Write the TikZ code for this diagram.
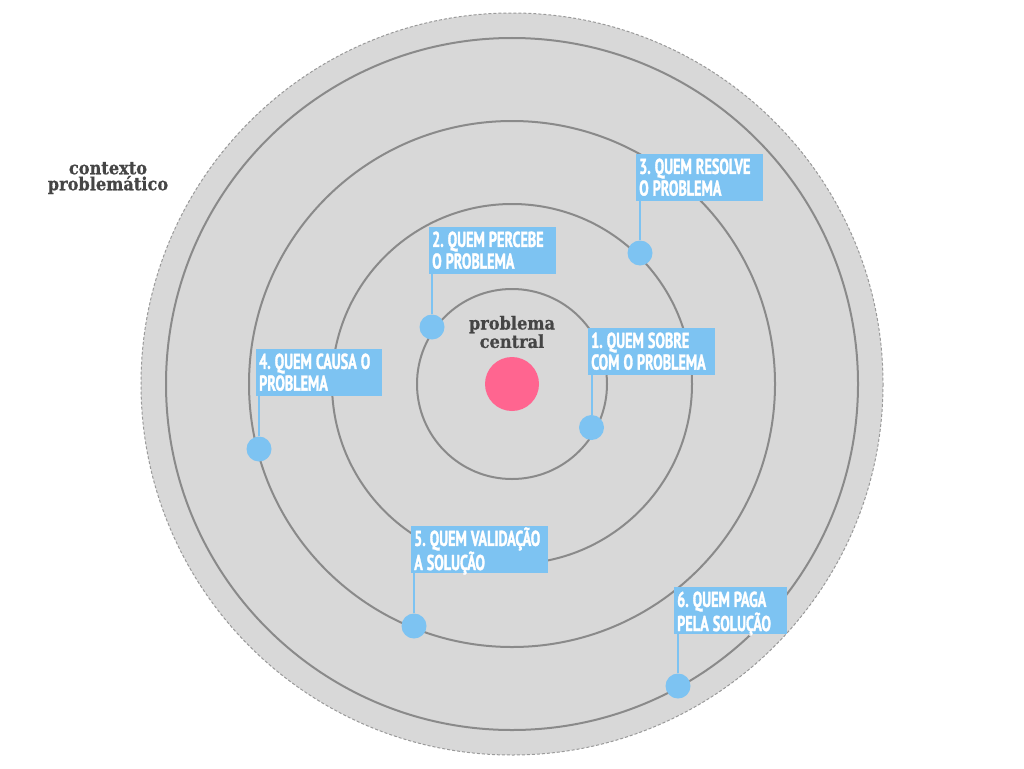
\documentclass[tikz,border=0pt]{standalone}
\usepackage{fontspec}
\newfontfamily\labfont[FakeStretch=0.66,FakeBold=1.4]{PT Sans}
\newfontfamily\slabfont[FakeStretch=0.9,FakeBold=0.6]{DejaVu Serif}
\definecolor{ringfill}{HTML}{D8D8D8}
\definecolor{ringline}{HTML}{8A8A8A}
\definecolor{dashline}{HTML}{9A9A9A}
\definecolor{labblue}{HTML}{7DC3F2}
\definecolor{corepink}{HTML}{FF6590}
\definecolor{darktext}{HTML}{454545}
\begin{document}
\begin{tikzpicture}[x=1pt,y=-1pt,
  ring/.style={draw=ringline,line width=2pt},
  dot/.style={circle,fill=labblue,minimum size=25pt,inner sep=0pt},
  conn/.style={draw=labblue,line width=2pt},
  labbox/.style={fill=labblue,text=white,anchor=north west,align=left,
    font=\labfont\bfseries\fontsize{21.5}{21.7}\selectfont,
    execute at begin node={\spaceskip=4pt plus 1pt\xspaceskip=4pt plus 1pt\hyphenpenalty=10000 },
    inner xsep=3pt,inner ysep=0pt,text height=19.7pt,text depth=27pt},
  slab/.style={text=darktext,align=center,font=\slabfont\bfseries\fontsize{18}{16}\selectfont}]
\useasboundingbox (0,0) rectangle (1024,768);
\fill[white] (0,0) rectangle (1024,768);
% context circle
\draw[fill=ringfill,draw=dashline,dash pattern=on 3pt off 2pt,line width=1pt] (512,384) circle[radius=371];
\draw[ring] (512,384) circle[radius=346];
\draw[ring] (512,384) circle[radius=263];
\draw[ring] (512,384) circle[radius=180];
\draw[ring] (512,384) circle[radius=95];
% core
\node[circle,fill=corepink,minimum size=54pt,inner sep=0pt] (core) at (512,384) {};
\node[slab] (central) at (512,332) {problema\\central};
\node[slab] (ctx) at (108,178) {contexto\\problemático};
% labels
\node[labbox,text width=121pt] (l1) at (588,328) {1. QUEM SOBRE\\COM O PROBLEMA};
\node[labbox,text width=121pt] (l2) at (429,227) {2. QUEM PERCEBE\\O PROBLEMA};
\node[labbox,text width=121pt] (l3) at (636,154) {3. QUEM RESOLVE\\O PROBLEMA};
\node[labbox,text width=120pt] (l4) at (256,349) {4. QUEM CAUSA O\\PROBLEMA};
\node[labbox,text width=131pt] (l5) at (411,526) {5. QUEM VALIDAÇÃO\\A SOLUÇÃO};
\node[labbox,text width=107pt] (l6) at (674,587) {6. QUEM PAGA\\PELA SOLUÇÃO};
% dots
\node[dot] (d1) at (591.5,427.5) {};
\node[dot] (d2) at (432,327) {};
\node[dot] (d3) at (640,253) {};
\node[dot] (d4) at (259,449) {};
\node[dot] (d5) at (414,626) {};
\node[dot] (d6) at (678,686) {};
% connectors
\foreach \i in {1,...,6}{
  \draw[conn] (d\i.north) -- (d\i.north |- l\i.south);
}
\end{tikzpicture}
\end{document}
